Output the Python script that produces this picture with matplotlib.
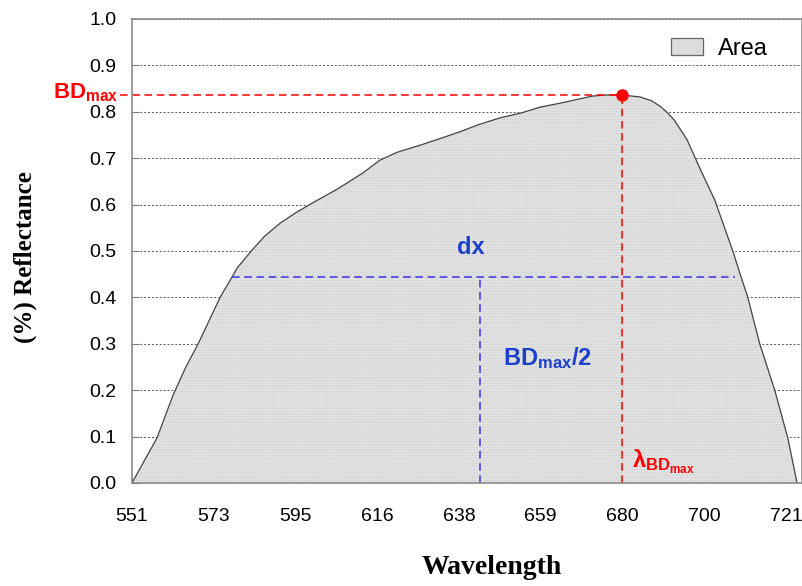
import matplotlib
matplotlib.use("Agg")
import matplotlib.pyplot as plt
from matplotlib.patches import Patch
import numpy as np

plt.rcParams["font.family"] = ["Liberation Sans", "DejaVu Sans"]
plt.rcParams["mathtext.fontset"] = "custom"
plt.rcParams["mathtext.rm"] = "Liberation Sans"
plt.rcParams["mathtext.bf"] = "Liberation Sans:bold"
plt.rcParams["hatch.linewidth"] = 0.4

# 반사 스펙트럼 (파장, 반사율)
wavelength = [551.0, 554.0, 557.5, 561.7, 565.0, 568.2, 573.9, 577.0, 578.3, 582.2,
              585.5, 589.5, 593.5, 597.8, 604.3, 611.0, 615.5, 620.0, 625.9, 631.0,
              636.3, 641.0, 646.7, 652.0, 657.1, 662.0, 667.5, 670.8, 674.0, 678.5,
              683.1, 686.0, 688.3, 690.2, 692.0, 695.3, 698.7, 702.5, 707.2, 709.0,
              711.1, 714.2, 718.1, 721.5, 723.9]
reflectance = [0.0, 0.045, 0.097, 0.19, 0.25, 0.30, 0.40, 0.444, 0.463, 0.502,
               0.532, 0.56, 0.582, 0.603, 0.633, 0.668, 0.696, 0.713, 0.728, 0.742,
               0.757, 0.772, 0.787, 0.797, 0.81, 0.818, 0.828, 0.834, 0.836, 0.836,
               0.832, 0.824, 0.812, 0.798, 0.782, 0.74, 0.677, 0.61, 0.50, 0.453,
               0.40, 0.30, 0.20, 0.097, 0.0]

tick_labels = ["551", "573", "595", "616", "638", "659", "680", "700", "721"]

bd_max = 0.836
peak_wl = 678.5
half_level = 0.444
dx_left = 577.0
dx_right = 707.7
half_wl = 641.5

RED = "#ff0000"
BLUE_TXT = "#1c3fce"
BLUE_LN = "#3535e8"

fig = plt.figure(figsize=(8.03, 5.86), dpi=100)
ax = fig.add_axes([0.1644, 0.1758, 0.8344, 0.7918])

ax.fill_between(wavelength, reflectance, 0, facecolor="#e2e2e2",
                edgecolor="#c4c4c4", hatch="......", linewidth=0, zorder=2)
ax.plot(wavelength, reflectance, color="#444444", lw=0.9, zorder=3)

# 보조선
ax.plot([547.9, peak_wl], [bd_max, bd_max], color=RED, ls=(0, (5, 3)), lw=1.1,
        clip_on=False, zorder=4)
ax.plot([peak_wl, peak_wl], [0, bd_max], color=RED, ls=(0, (5, 3)), lw=1.1, zorder=4)
ax.plot([peak_wl], [bd_max], "o", color=RED, ms=8, zorder=5)
ax.plot([dx_left, dx_right], [half_level, half_level], color=BLUE_LN,
        ls=(0, (5, 3)), lw=1.1, zorder=4)
ax.plot([half_wl, half_wl], [0, half_level], color=BLUE_LN, ls=(0, (5, 3)),
        lw=1.1, zorder=4)

# 텍스트
ax.text(547.5, bd_max + 0.006, r"$\mathbf{BD_{max}}$", color=RED, fontsize=16,
        ha="right", va="center", clip_on=False)
ax.text(639.1, 0.508, "dx", color=BLUE_TXT, fontsize=17, fontweight="bold",
        ha="center", va="center")
ax.text(647.5, 0.27, r"$\mathbf{BD_{max}/2}$", color=BLUE_TXT, fontsize=17,
        ha="left", va="center")
ax.text(681.0, 0.045, r"$\mathbf{\lambda_{BD_{max}}}$", color=RED, fontsize=17,
        ha="left", va="center")

ax.set_xlim(551, 725.2)
ax.set_ylim(0, 1.0)
ax.set_xticks(np.linspace(551, 721, len(tick_labels)))
ax.set_xticklabels(tick_labels)
ax.set_yticks(np.arange(0, 1.01, 0.1))
ax.set_yticklabels([f"{v:.1f}" for v in np.arange(0, 1.01, 0.1)])
ax.tick_params(axis="both", labelsize=14, direction="in", length=5,
               color="#777777", pad=11)
ax.tick_params(axis="x", pad=18)

ax.grid(axis="y", color="#555555", ls=(0, (2, 2)), lw=0.7, zorder=0)
ax.set_axisbelow(True)
for s in ax.spines.values():
    s.set_color("#8a8a8a")
    s.set_linewidth(1.2)
    s.set_zorder(6)

fig.text(0.031, 0.561, "(%) Reflectance", rotation=90, ha="center", va="center",
         fontsize=18, fontweight="bold", family="Liberation Serif")
fig.text(0.613, 0.032, "Wavelength", ha="center", va="center",
         fontsize=20, fontweight="bold", family="Liberation Serif")

handle = Patch(facecolor="#dcdcdc", edgecolor="#666666", lw=0.9)
ax.legend([handle], ["Area"], loc="upper right", frameon=False, fontsize=17,
          handlelength=1.35, handleheight=0.7, handletextpad=0.6,
          bbox_to_anchor=(0.98, 1.005))

fig.savefig("out.png", dpi=100)
